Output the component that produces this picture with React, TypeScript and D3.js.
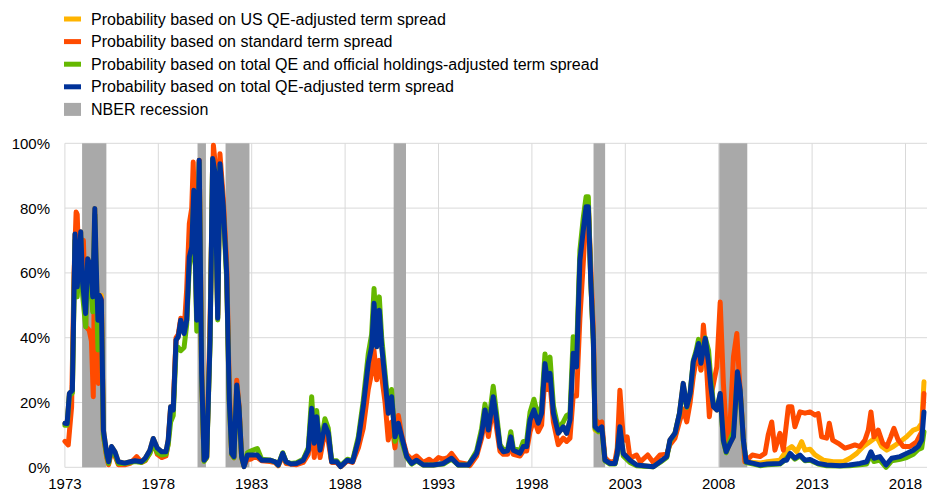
import React from 'react';
import * as d3 from 'd3';

type Pt = [number, number];

const xTickYears = [1973, 1978, 1983, 1988, 1993, 1998, 2003, 2008, 2013, 2018];
const yTickValues = [0, 20, 40, 60, 80, 100];

const recessions: Pt[] = [
  [1973.92, 1975.22], [1980.1, 1980.55], [1981.6, 1982.88],
  [1990.6, 1991.26], [2001.3, 2001.92], [2008.03, 2009.53],
];

const totalQe: Pt[] = [
  [1973.0,13.6],[1973.12,13.5],[1973.24,22.8],[1973.4,23.8],[1973.54,72],[1973.66,55.7],[1973.85,72.7],[1973.95,56.7],[1974.11,47.5],[1974.22,64.4],[1974.38,62],[1974.49,52.6],[1974.6,79.9],[1974.7,57.8],[1974.77,45.4],[1974.84,53.1],[1974.95,51.6],[1975.06,11.5],[1975.24,4.3],[1975.34,1.7],[1975.5,6.4],[1975.68,4.8],[1975.86,1.7],[1976.2,1.3],[1976.5,1.7],[1976.75,2.0],[1977.1,1.7],[1977.3,2.8],[1977.55,5.3],[1977.73,8.9],[1977.95,5.9],[1978.18,4.8],[1978.41,4.8],[1978.53,8.4],[1978.66,18.7],[1978.8,17.7],[1978.95,39.3],[1979.07,40.3],[1979.2,45.4],[1979.38,41.3],[1979.52,45.4],[1979.66,64.9],[1979.79,68],[1979.9,85.5],[1980.06,45.4],[1980.19,94.8],[1980.32,29],[1980.45,2.2],[1980.59,3.3],[1980.77,39.3],[1980.91,95.3],[1981.04,90.7],[1981.18,46],[1981.3,93.7],[1981.48,80.4],[1981.66,59.8],[1981.8,20.8],[1981.93,4.3],[1982.05,3.3],[1982.2,25.4],[1982.32,18.7],[1982.46,3.3],[1982.59,0.2],[1982.77,3.8],[1982.95,3.8],[1983.08,3.8],[1983.3,3.8],[1983.53,2.2],[1983.98,2.2],[1984.25,1.7],[1984.42,0.7],[1984.66,4.3],[1984.84,1.7],[1985.1,1.0],[1985.4,1.2],[1985.76,2.2],[1986.03,5.3],[1986.21,18.2],[1986.35,7.4],[1986.48,15.6],[1986.66,5.3],[1986.92,13],[1987.1,10.5],[1987.28,1.7],[1987.55,1.7],[1987.76,0.2],[1988.12,2.2],[1988.4,1.7],[1988.71,8.4],[1988.97,18.7],[1989.24,32],[1989.42,37.2],[1989.55,50.6],[1989.69,37.2],[1989.83,48.5],[1989.96,37.2],[1990.14,26.9],[1990.31,16.7],[1990.49,21.8],[1990.67,9.4],[1990.85,13.6],[1991.03,9.4],[1991.3,3.3],[1991.56,1.2],[1991.83,2.2],[1992.19,0.7],[1992.72,0.7],[1993.26,1.2],[1993.7,2.8],[1994.06,0.7],[1994.6,0.7],[1995.04,4.3],[1995.31,10.5],[1995.49,17.7],[1995.67,11.5],[1995.93,21.8],[1996.11,14.6],[1996.29,6.4],[1996.47,4.8],[1996.7,5.1],[1996.87,9.4],[1997.0,5.3],[1997.36,4.3],[1997.54,6.4],[1997.72,6.4],[1997.9,14.6],[1998.11,17.7],[1998.34,13.6],[1998.52,16.7],[1998.7,32],[1998.83,26.9],[1998.97,29],[1999.15,16.7],[1999.41,10.5],[1999.68,12.5],[1999.86,10.5],[2000.04,14.6],[2000.21,35.2],[2000.39,31],[2000.57,63.9],[2000.75,73.2],[2000.9,80.4],[2001.02,80.4],[2001.15,57.8],[2001.29,39.3],[2001.38,12.5],[2001.56,11.5],[2001.74,12.5],[2001.91,2.2],[2002.18,1.2],[2002.45,1.2],[2002.57,4.3],[2002.71,12.5],[2002.89,4.3],[2003.25,2.2],[2003.61,0.7],[2004.0,0.5],[2004.5,0.2],[2004.86,1.7],[2005.22,3.3],[2005.39,8.4],[2005.66,10.5],[2005.9,16.7],[2006.1,25.9],[2006.29,18.7],[2006.47,22.8],[2006.64,32.6],[2006.79,35.2],[2006.92,38.2],[2007.05,32.1],[2007.28,39.8],[2007.46,32.1],[2007.58,24.9],[2007.72,18.7],[2007.9,17.7],[2008.08,22.8],[2008.25,8.4],[2008.4,4.8],[2008.61,7.4],[2008.79,9.4],[2008.88,17.7],[2009.0,29.5],[2009.15,23.8],[2009.32,8.4],[2009.47,1.7],[2009.86,1.2],[2010.21,0.7],[2010.6,1.0],[2011.28,1.2],[2011.5,2.2],[2011.64,2.2],[2011.82,4.3],[2012.08,2.8],[2012.35,3.8],[2012.62,2.2],[2012.89,2.4],[2013.33,1.2],[2013.78,0.7],[2014.5,0.5],[2015.0,0.7],[2015.56,1.2],[2015.92,1.7],[2016.15,4.8],[2016.31,2.8],[2016.63,3.3],[2016.96,0.7],[2017.26,2.8],[2017.71,3.3],[2018.06,4.3],[2018.42,5.3],[2018.68,6.4],[2018.87,8.4],[2018.99,17.1],
];

const usQe: Pt[] = [
  [1973.0,13.6],[1973.12,13.5],[1973.24,22.8],[1973.4,23.8],[1973.54,72],[1973.66,55.7],[1973.85,72.7],[1973.95,56.7],[1974.11,47.5],[1974.22,64.4],[1974.38,62],[1974.49,52.6],[1974.6,79.9],[1974.7,57.8],[1974.77,45.4],[1974.84,53.1],[1974.95,53],[1975.06,11.5],[1975.24,4.3],[1975.34,1.7],[1975.5,6.4],[1975.68,4.8],[1975.86,1.7],[1976.2,1.3],[1976.5,1.7],[1976.75,2.0],[1977.1,1.7],[1977.3,2.8],[1977.55,5.3],[1977.73,8.9],[1977.95,5.9],[1978.18,4.8],[1978.41,4.8],[1978.53,8.4],[1978.66,18.7],[1978.8,17.7],[1978.95,39.3],[1979.07,40.3],[1979.2,45.4],[1979.38,41.3],[1979.52,45.4],[1979.66,64.9],[1979.79,68],[1979.9,85.5],[1980.06,45.4],[1980.19,94.8],[1980.32,29],[1980.45,2.2],[1980.59,3.3],[1980.77,39.3],[1980.91,95.3],[1981.04,90.7],[1981.18,46],[1981.3,93.7],[1981.48,80.4],[1981.66,59.8],[1981.8,20.8],[1981.93,4.3],[1982.05,3.3],[1982.2,25.4],[1982.32,18.7],[1982.46,3.3],[1982.59,0.2],[1982.77,3.8],[1982.95,3.8],[1983.08,3.8],[1983.3,3.8],[1983.53,2.2],[1983.98,2.2],[1984.25,1.7],[1984.42,0.7],[1984.66,4.3],[1984.84,1.7],[1985.1,1.0],[1985.4,1.2],[1985.76,2.2],[1986.03,5.3],[1986.21,18.2],[1986.35,7.4],[1986.48,15.6],[1986.66,5.3],[1986.92,13],[1987.1,10.5],[1987.28,1.7],[1987.55,1.7],[1987.76,0.2],[1988.12,2.2],[1988.4,1.7],[1988.71,8.4],[1988.97,18.7],[1989.24,32],[1989.42,37.2],[1989.55,50.6],[1989.69,37.2],[1989.83,48.5],[1989.96,37.2],[1990.14,26.9],[1990.31,16.7],[1990.49,21.8],[1990.67,9.4],[1990.85,13.6],[1991.03,9.4],[1991.3,3.3],[1991.56,1.2],[1991.83,2.2],[1992.19,0.7],[1992.72,0.7],[1993.26,1.2],[1993.7,2.8],[1994.06,0.7],[1994.6,0.7],[1995.04,4.3],[1995.31,10.5],[1995.49,17.7],[1995.67,11.5],[1995.93,21.8],[1996.11,14.6],[1996.29,6.4],[1996.47,4.8],[1996.7,5.1],[1996.87,9.4],[1997.0,5.3],[1997.36,4.3],[1997.54,6.4],[1997.72,6.4],[1997.9,14.6],[1998.11,17.7],[1998.34,13.6],[1998.52,16.7],[1998.7,32],[1998.83,26.9],[1998.97,29],[1999.15,16.7],[1999.41,10.5],[1999.68,12.5],[1999.86,10.5],[2000.04,14.6],[2000.21,35.2],[2000.39,31],[2000.57,63.9],[2000.75,73.2],[2000.9,80.4],[2001.02,80.4],[2001.15,57.8],[2001.29,39.3],[2001.38,11.5],[2001.56,11],[2001.74,12],[2001.91,2.2],[2002.18,1.2],[2002.45,1.2],[2002.57,4.3],[2002.71,12.5],[2002.89,4.3],[2003.25,2.2],[2003.61,0.7],[2004.0,0.5],[2004.5,0.2],[2004.86,1.7],[2005.22,3.3],[2005.39,8.4],[2005.66,10.5],[2005.9,16.7],[2006.1,25.9],[2006.29,18.7],[2006.47,22.8],[2006.64,31],[2006.79,33],[2006.92,35],[2007.05,30],[2007.28,36],[2007.46,31],[2007.58,24.9],[2007.72,18.7],[2007.9,17.7],[2008.08,22.8],[2008.25,8.4],[2008.4,4.8],[2008.61,7.4],[2008.79,9.4],[2008.88,17.7],[2009.0,29.5],[2009.15,23.8],[2009.32,8.4],[2009.47,1.7],[2009.86,1.5],[2010.21,1.3],[2010.6,1.7],[2011.28,2.2],[2011.64,5.3],[2011.91,6.4],[2012.18,4.8],[2012.44,7.9],[2012.62,5.3],[2012.89,5.6],[2013.16,3.8],[2013.6,2.2],[2014.13,1.7],[2014.67,1.7],[2015.03,2.8],[2015.39,4.3],[2015.74,6.4],[2016.1,7.9],[2016.46,9.4],[2016.73,6.4],[2017.0,5.3],[2017.35,6.4],[2017.71,7.9],[2018.06,9.4],[2018.42,11.5],[2018.68,12],[2018.87,13.6],[2018.99,26.4],
];

const standardSpread: Pt[] = [
  [1973.0,8],[1973.18,6.9],[1973.36,18.7],[1973.49,59.8],[1973.6,78.8],[1973.66,78],[1973.77,56.7],[1973.88,68],[1973.99,70],[1974.13,43.4],[1974.3,42.3],[1974.42,39],[1974.52,21.8],[1974.6,78],[1974.7,39.3],[1974.79,25.9],[1974.86,53],[1974.95,52],[1975.06,10],[1975.24,3],[1975.34,0.8],[1975.5,5],[1975.68,3.5],[1975.86,0.8],[1976.2,0.8],[1976.5,1.2],[1976.84,3.3],[1977.1,1.5],[1977.3,2],[1977.55,4.5],[1977.73,7.5],[1977.95,4],[1978.18,3],[1978.41,3.5],[1978.53,7.5],[1978.66,18],[1978.8,19],[1978.95,40],[1979.07,41],[1979.2,46],[1979.38,42],[1979.52,55],[1979.66,75.2],[1979.79,80],[1979.87,94.2],[1980.02,60],[1980.06,47],[1980.19,94.8],[1980.32,30],[1980.45,2],[1980.59,3],[1980.77,45],[1980.95,99.4],[1981.06,93],[1981.18,47],[1981.3,96.8],[1981.48,83],[1981.66,63],[1981.8,24],[1981.93,4],[1982.05,3],[1982.2,26.9],[1982.32,19],[1982.46,3],[1982.59,0.5],[1982.77,2.5],[1982.95,2.5],[1983.08,3],[1983.3,3],[1983.53,2],[1983.98,1.8],[1984.25,1.5],[1984.42,0.5],[1984.66,3.5],[1984.84,1.2],[1985.4,0.8],[1985.76,1.5],[1986.03,4],[1986.21,14],[1986.35,3],[1986.48,11],[1986.66,3],[1986.92,11],[1987.1,8],[1987.28,1.5],[1987.55,1.5],[1987.76,0.2],[1988.12,2],[1988.4,1.5],[1988.71,6],[1988.97,12],[1989.24,24],[1989.42,29],[1989.55,36],[1989.69,27],[1989.83,33],[1989.96,28],[1990.14,20],[1990.31,8.4],[1990.49,14],[1990.67,6],[1990.85,16],[1991.03,10],[1991.3,4],[1991.56,2.5],[1991.83,3.5],[1992.19,1.5],[1992.5,2.5],[1992.72,1.5],[1993.0,3],[1993.26,2.5],[1993.5,3],[1993.7,4.3],[1994.06,1.5],[1994.5,1],[1994.68,0.5],[1995.04,3.5],[1995.31,9],[1995.49,15.5],[1995.67,9.5],[1995.93,19],[1996.11,12],[1996.29,5],[1996.47,4],[1996.7,4],[1996.87,7.5],[1997.0,4],[1997.36,3.5],[1997.54,5],[1997.72,5],[1997.9,11],[1998.11,15],[1998.34,11],[1998.52,13],[1998.7,28],[1998.83,24],[1998.97,26],[1999.15,14],[1999.41,7],[1999.68,9],[1999.86,8],[2000.04,9],[2000.21,22],[2000.39,22],[2000.57,46],[2000.75,63],[2000.9,78],[2001.02,81],[2001.15,62],[2001.29,42],[2001.38,15],[2001.56,13.5],[2001.74,14],[2001.91,3],[2002.18,1.5],[2002.45,2],[2002.57,6],[2002.71,23.8],[2002.89,9.4],[2003.0,8.4],[2003.1,9.4],[2003.25,2.8],[2003.6,3.8],[2003.8,1.7],[2004.2,3.8],[2004.5,1.5],[2004.86,3.8],[2005.22,4],[2005.39,7],[2005.66,9],[2005.9,14],[2006.1,18],[2006.29,14],[2006.47,20],[2006.64,28],[2006.79,33],[2006.92,36],[2007.05,30],[2007.18,43.9],[2007.3,36],[2007.5,15.6],[2007.65,23.8],[2007.9,31],[2008.08,51],[2008.25,26],[2008.44,7.4],[2008.6,12.5],[2008.79,34.1],[2008.97,41.3],[2009.1,28],[2009.4,1.7],[2009.8,3.8],[2010.21,3.3],[2010.48,4.3],[2010.65,10],[2010.84,14],[2011.01,5.3],[2011.28,10.5],[2011.46,5.3],[2011.73,18.7],[2011.91,18.7],[2012.08,12.5],[2012.35,17.1],[2012.62,16.7],[2012.89,17.1],[2013.16,16.1],[2013.33,16.6],[2013.51,9.4],[2013.78,9],[2013.92,13.6],[2014.1,8.4],[2014.4,7.4],[2014.76,5.9],[2015.03,6.4],[2015.29,6.9],[2015.56,6.4],[2015.83,8.4],[2016.01,11.5],[2016.15,17.1],[2016.31,9.4],[2016.54,11.5],[2016.78,7.4],[2017.0,6.4],[2017.21,9.4],[2017.38,12],[2017.61,8.4],[2017.88,6.4],[2018.24,6.4],[2018.6,7.9],[2018.87,11],[2018.99,22.8],
];

const totalQeOfficial: Pt[] = [
  [1973.0,13],[1973.12,13],[1973.24,22],[1973.4,23],[1973.54,70],[1973.66,52.6],[1973.85,71],[1973.95,53],[1974.11,43.4],[1974.22,61],[1974.38,56],[1974.49,48],[1974.6,78],[1974.7,52],[1974.77,36.2],[1974.84,50],[1974.95,50],[1975.06,10],[1975.24,3.5],[1975.34,1.2],[1975.5,5.5],[1975.68,4],[1975.86,1.2],[1976.2,1.2],[1976.5,1.5],[1976.75,1.8],[1977.1,1.5],[1977.3,2.2],[1977.55,4.3],[1977.73,7.5],[1977.95,4.5],[1978.18,3.8],[1978.41,4],[1978.53,7],[1978.66,14],[1978.8,16],[1978.95,36],[1979.07,37],[1979.2,36],[1979.38,37],[1979.52,44],[1979.66,62],[1979.79,66],[1979.9,84],[1980.06,42],[1980.19,94],[1980.32,28],[1980.45,1.8],[1980.59,3],[1980.77,38],[1980.91,95],[1981.04,90],[1981.18,45.5],[1981.3,93],[1981.48,79],[1981.66,58],[1981.8,20],[1981.93,4],[1982.05,3],[1982.2,25],[1982.32,18],[1982.46,3],[1982.59,0.5],[1982.77,4.5],[1982.95,5],[1983.08,5.3],[1983.3,5.8],[1983.53,2.5],[1983.98,2.2],[1984.25,1.7],[1984.42,0.7],[1984.66,4.5],[1984.84,1.7],[1985.1,1.2],[1985.4,1.4],[1985.76,2.5],[1986.03,6],[1986.21,21.8],[1986.35,9],[1986.48,17.5],[1986.66,6],[1986.92,15],[1987.1,12],[1987.28,2],[1987.55,2],[1987.76,0.5],[1988.12,2.5],[1988.4,2],[1988.71,9.5],[1988.97,20.5],[1989.24,35],[1989.42,41],[1989.55,55.2],[1989.69,41],[1989.83,52.6],[1989.96,40],[1990.14,29],[1990.31,18.5],[1990.49,24],[1990.67,8],[1990.85,12],[1991.03,8],[1991.3,3],[1991.56,1],[1991.83,2],[1992.19,0.7],[1992.72,0.7],[1993.26,1],[1993.7,2.5],[1994.06,0.7],[1994.6,0.7],[1995.04,5],[1995.31,12],[1995.49,19.5],[1995.67,13],[1995.93,25],[1996.11,16.5],[1996.29,7],[1996.47,5.5],[1996.7,5.5],[1996.87,11],[1997.0,6],[1997.36,5],[1997.54,8],[1997.72,8],[1997.9,17],[1998.11,21],[1998.34,15.5],[1998.52,19],[1998.7,35],[1998.83,30],[1998.97,34],[1999.15,19],[1999.41,12],[1999.68,14],[1999.86,16],[2000.04,16.5],[2000.21,40.3],[2000.39,35],[2000.57,67],[2000.75,77],[2000.9,83.5],[2001.02,83.5],[2001.15,58],[2001.29,38],[2001.38,12],[2001.56,11],[2001.74,12],[2001.91,2],[2002.18,1],[2002.45,1],[2002.57,4],[2002.71,12],[2002.89,3.5],[2003.25,1.5],[2003.61,0.5],[2004.0,0.3],[2004.5,0.2],[2004.86,1.5],[2005.22,3],[2005.39,8],[2005.66,10.5],[2005.9,16.5],[2006.1,25],[2006.29,18.5],[2006.47,23],[2006.64,33],[2006.79,36],[2006.92,39.5],[2007.05,33],[2007.28,40],[2007.46,36],[2007.58,27],[2007.72,19.5],[2007.9,18],[2008.08,22],[2008.25,8],[2008.4,4.5],[2008.61,8.5],[2008.79,11],[2008.88,18],[2009.0,28],[2009.15,23],[2009.32,8],[2009.47,1.5],[2009.86,1],[2010.21,0.5],[2010.6,0.8],[2011.28,1],[2011.5,2],[2011.82,4],[2012.08,2.5],[2012.35,3.5],[2012.62,2],[2012.89,2.2],[2013.33,1],[2013.78,0.5],[2014.5,0.4],[2015.0,0.5],[2015.56,0.8],[2015.92,1],[2016.15,4],[2016.31,1.8],[2016.63,2.2],[2016.96,0],[2017.26,2],[2017.71,2.5],[2018.06,3],[2018.42,4],[2018.68,5.5],[2018.87,6],[2018.99,11],
];

const seriesNames = [
  'Probability based on US QE-adjusted term spread',
  'Probability based on standard term spread',
  'Probability based on total QE and official holdings-adjusted term spread',
  'Probability based on total QE-adjusted term spread',
];
const seriesColors = ['#FFB400', '#FF4B00', '#65B800', '#003299'];
const recessionLabel = 'NBER recession';
const recessionColor = '#A9A9A9';

const FONT = '"Liberation Sans", Arial, sans-serif';

export default function App() {
  const width = 927;
  const height = 493;
  const x = d3.scaleLinear().domain([1973, 2019]).range([64.9, 64.9 + 46 * 18.68]);
  const y = d3.scaleLinear().domain([0, 100]).range([467.3, 143.3]);
  const line = d3.line<Pt>().x(d => x(d[0])).y(d => y(d[1]));
  const allSeries = [usQe, standardSpread, totalQeOfficial, totalQe];
  const rowY = (i: number) => 19 + i * 22.6;

  return (
    <svg width={width} height={height} style={{ position: 'absolute', left: 0, top: 0, background: '#fff' }}
      fontFamily={FONT}>
      {yTickValues.map(v => (
        <line key={'h' + v} x1={x(1973)} x2={width} y1={y(v)} y2={y(v)} stroke="#D9D9D9" strokeWidth={1} />
      ))}
      {xTickYears.map(t => (
        <line key={'v' + t} x1={x(t)} x2={x(t)} y1={y(100)} y2={y(0)} stroke="#D9D9D9" strokeWidth={1} />
      ))}
      {recessions.map((r, i) => (
        <rect key={'r' + i} x={x(r[0])} width={x(r[1]) - x(r[0])} y={y(100)} height={y(0) - y(100)} fill={recessionColor} />
      ))}
      {allSeries.map((s, i) => (
        <path key={'s' + i} d={line(s) || ''} fill="none" stroke={seriesColors[i]} strokeWidth={5}
          strokeLinejoin="round" strokeLinecap="round" />
      ))}
      {yTickValues.map(v => (
        <text key={'yl' + v} x={50} y={y(v) + 5.5} textAnchor="end" fontSize={15} fill="#000">{v}%</text>
      ))}
      {xTickYears.map(t => (
        <text key={'xl' + t} x={x(t)} y={489} textAnchor="middle" fontSize={15} fill="#000">{t}</text>
      ))}
      {seriesNames.map((n, i) => (
        <g key={'lg' + i}>
          <rect x={64} y={rowY(i) - 2.5} width={17} height={5} fill={seriesColors[i]} />
          <text x={91} y={rowY(i) + 5.6} fontSize={16} fill="#000">{n}</text>
        </g>
      ))}
      <rect x={64} y={rowY(4) - 6.5} width={17} height={13} fill={recessionColor} />
      <text x={91} y={rowY(4) + 5.6} fontSize={16} fill="#000">{recessionLabel}</text>
    </svg>
  );
}
